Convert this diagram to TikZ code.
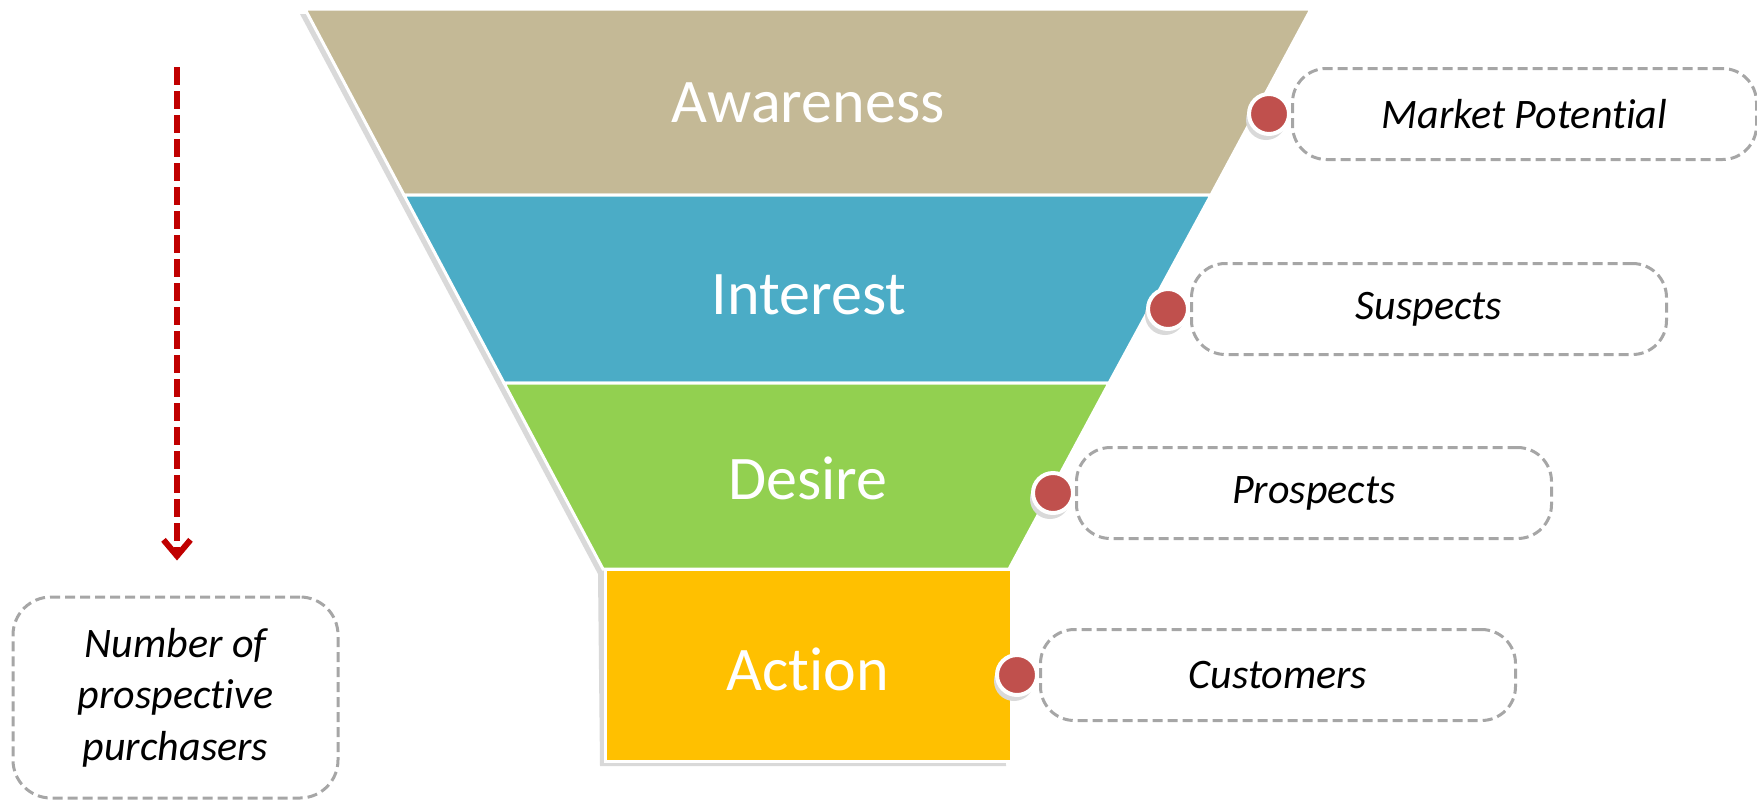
\documentclass[tikz,border=0pt]{standalone}
\usepackage{fontspec}
\setmainfont{Carlito}[Ligatures=NoCommon]
\usetikzlibrary{positioning,arrows.meta,shadows}
\definecolor{awareC}{HTML}{C4B996}
\definecolor{interestC}{HTML}{4BACC6}
\definecolor{desireC}{HTML}{92D050}
\definecolor{actionC}{HTML}{FFC000}
\definecolor{dotC}{HTML}{C0504D}
\definecolor{dashC}{HTML}{A6A6A6}
\definecolor{shadeC}{HTML}{D9D9D9}
\definecolor{arrowC}{HTML}{C00000}
\begin{document}
\begin{tikzpicture}[x=0.5pt, y=-0.5pt,
   stage/.style={draw=white, line width=1.5pt, line join=miter},
   stagetext/.style={text=white, font=\fontsize{31}{36}\selectfont},
   reddot/.style={circle, fill=dotC, draw=white, line width=2pt, minimum size=20pt, inner sep=0pt,
                  drop shadow={shadow xshift=-1.5pt, shadow yshift=-3pt, opacity=1, fill=shadeC}},
   tagbox/.style={draw=dashC, line width=1.5pt, dash pattern=on 5pt off 2.5pt, rounded corners=17pt,
                  minimum height=45.5pt, minimum width=237.5pt, inner sep=0pt,
                  font=\itshape\fontsize{21}{25.75}\selectfont},
   flow/.style={draw=arrowC, line width=3pt, dash pattern=on 9pt off 3pt,
                -{Straight Barb[length=8pt,width=13.5pt]}}]

\useasboundingbox (0,0) rectangle (1757,799);

% funnel
\fill[shadeC, shift={(-5,5)}] (305,9) -- (1311,9) -- (1009,569) -- (1011,761) -- (605,761) -- (603,569) -- cycle;
\filldraw[stage, fill=awareC] (305,9) -- (1311,9) -- (1211,195) -- (404,195) -- cycle;
\filldraw[stage, fill=interestC] (404,195) -- (1211,195) -- (1109,383) -- (504,383) -- cycle;
\filldraw[stage, fill=desireC] (504,383) -- (1109,383) -- (1009,569) -- (603,569) -- cycle;
\filldraw[stage, fill=actionC] (605,569) rectangle (1011,761);

\node[stagetext] (awareness) at (808,103) {Awareness};
\node[stagetext] (interest) at (809,295) {Interest};
\node[stagetext] (desire) at (808,478) {Desire};
\node[stagetext] (action) at (808,669) {Action};

% stage markers and tags
\node[reddot] (d1) at (1269,114) {};
\node[reddot] (d2) at (1168,309) {};
\node[reddot] (d3) at (1053,493) {};
\node[reddot] (d4) at (1017,675) {};

\node[tagbox, right=0pt of d1, minimum width=232pt] (market) {Market Potential};
\node[tagbox, right=0pt of d2] (suspects) {Suspects};
\node[tagbox, right=0pt of d3] (prospects) {Prospects};
\node[tagbox, right=0pt of d4] (customers) {Customers};

% left side
\node[tagbox, minimum width=162.5pt, minimum height=100.5pt, rounded corners=19pt, align=center]
   (buyers) at (175.5,697.5) {Number of\\prospective\\purchasers};
\coordinate (atop) at (177,67);
\draw[flow] (atop) -- ([xshift=0.75pt, yshift=17.5pt]buyers.north);

\end{tikzpicture}
\end{document}
